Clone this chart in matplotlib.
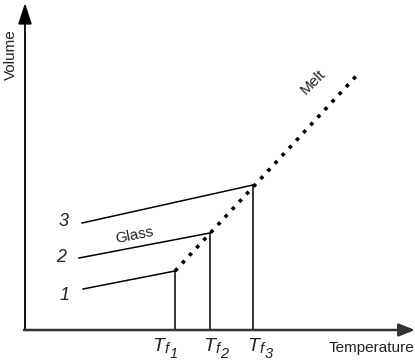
import matplotlib.pyplot as plt

plt.rcParams["font.family"] = ["Liberation Sans", "DejaVu Sans"]

# schematic units: temperature to the right, volume upward
origin_T = 25
origin_V = 30
axis_T_max = 415
axis_V_max = 357

tf = [175, 210, 253]                 # fictive temperatures Tf1..Tf3
tf_subs = ["1", "2", "3"]
glass_start_T = [83, 79, 82]
glass_start_V = [71, 102, 137]
glass_end_V = [89, 127, 175]
curve_labels = ["1", "2", "3"]

melt_T = [175, 359]
melt_V = [89, 287]

fig = plt.figure(figsize=(4.15, 3.6), dpi=100)
ax = fig.add_axes([0, 0, 1, 1])
ax.set_xlim(0, 415)
ax.set_ylim(0, 360)
ax.axis("off")

# axes with arrow heads
ax.annotate("", xy=(origin_T, axis_V_max), xytext=(origin_T, origin_V),
            arrowprops=dict(arrowstyle="-|>,head_length=0.8,head_width=0.26",
                            lw=1.3, color="black", mutation_scale=16,
                            shrinkA=0, shrinkB=0))
ax.annotate("", xy=(axis_T_max, origin_V), xytext=(origin_T - 1, origin_V),
            arrowprops=dict(arrowstyle="-|>,head_length=0.6,head_width=0.24",
                            lw=1.8, color="#333333", mutation_scale=16,
                            shrinkA=0, shrinkB=0))

# supercooled melt line
ax.plot(melt_T, melt_V, color="black", lw=2.6, linestyle=(0, (1, 1.9)),
        dash_capstyle="butt")

label_dx = [-23, -7, -6]
label_dV = [-7, 1, 1]
for i in range(len(tf)):
    ax.plot([glass_start_T[i], tf[i]], [glass_start_V[i], glass_end_V[i]],
            color="black", lw=1.1)
    ax.plot([tf[i], tf[i]], [origin_V, glass_end_V[i]], color="black", lw=1.1)
    ax.text(glass_start_T[i] - 18, glass_start_V[i] + label_dV[i],
            curve_labels[i], fontsize=13, style="italic", ha="center",
            va="center", color="#222222")

    # T with nested subscripts f and the index
    x0 = tf[i] + label_dx[i]
    ax.text(x0, 9, "T", fontsize=14, style="italic", ha="left",
            va="baseline", color="#222222")
    ax.text(x0 + 12, 7, "f", fontsize=11, style="italic", ha="left",
            va="baseline", color="#222222")
    ax.text(x0 + 17.5, 2, tf_subs[i], fontsize=10.5, style="italic",
            ha="left", va="baseline", color="#222222")

ax.text(134, 125, "Glass", fontsize=11, rotation=11, ha="center",
        va="center", color="#222222")
ax.text(313, 278, "Melt", fontsize=11, rotation=45, ha="center",
        va="center", color="#222222")
ax.text(371, 12, "Temperature", fontsize=11, ha="center", va="center",
        color="#222222")
ax.text(11, 305, "Volume", fontsize=11, rotation=90, ha="center",
        va="center", color="#222222")

fig.savefig("out.png", dpi=100)
